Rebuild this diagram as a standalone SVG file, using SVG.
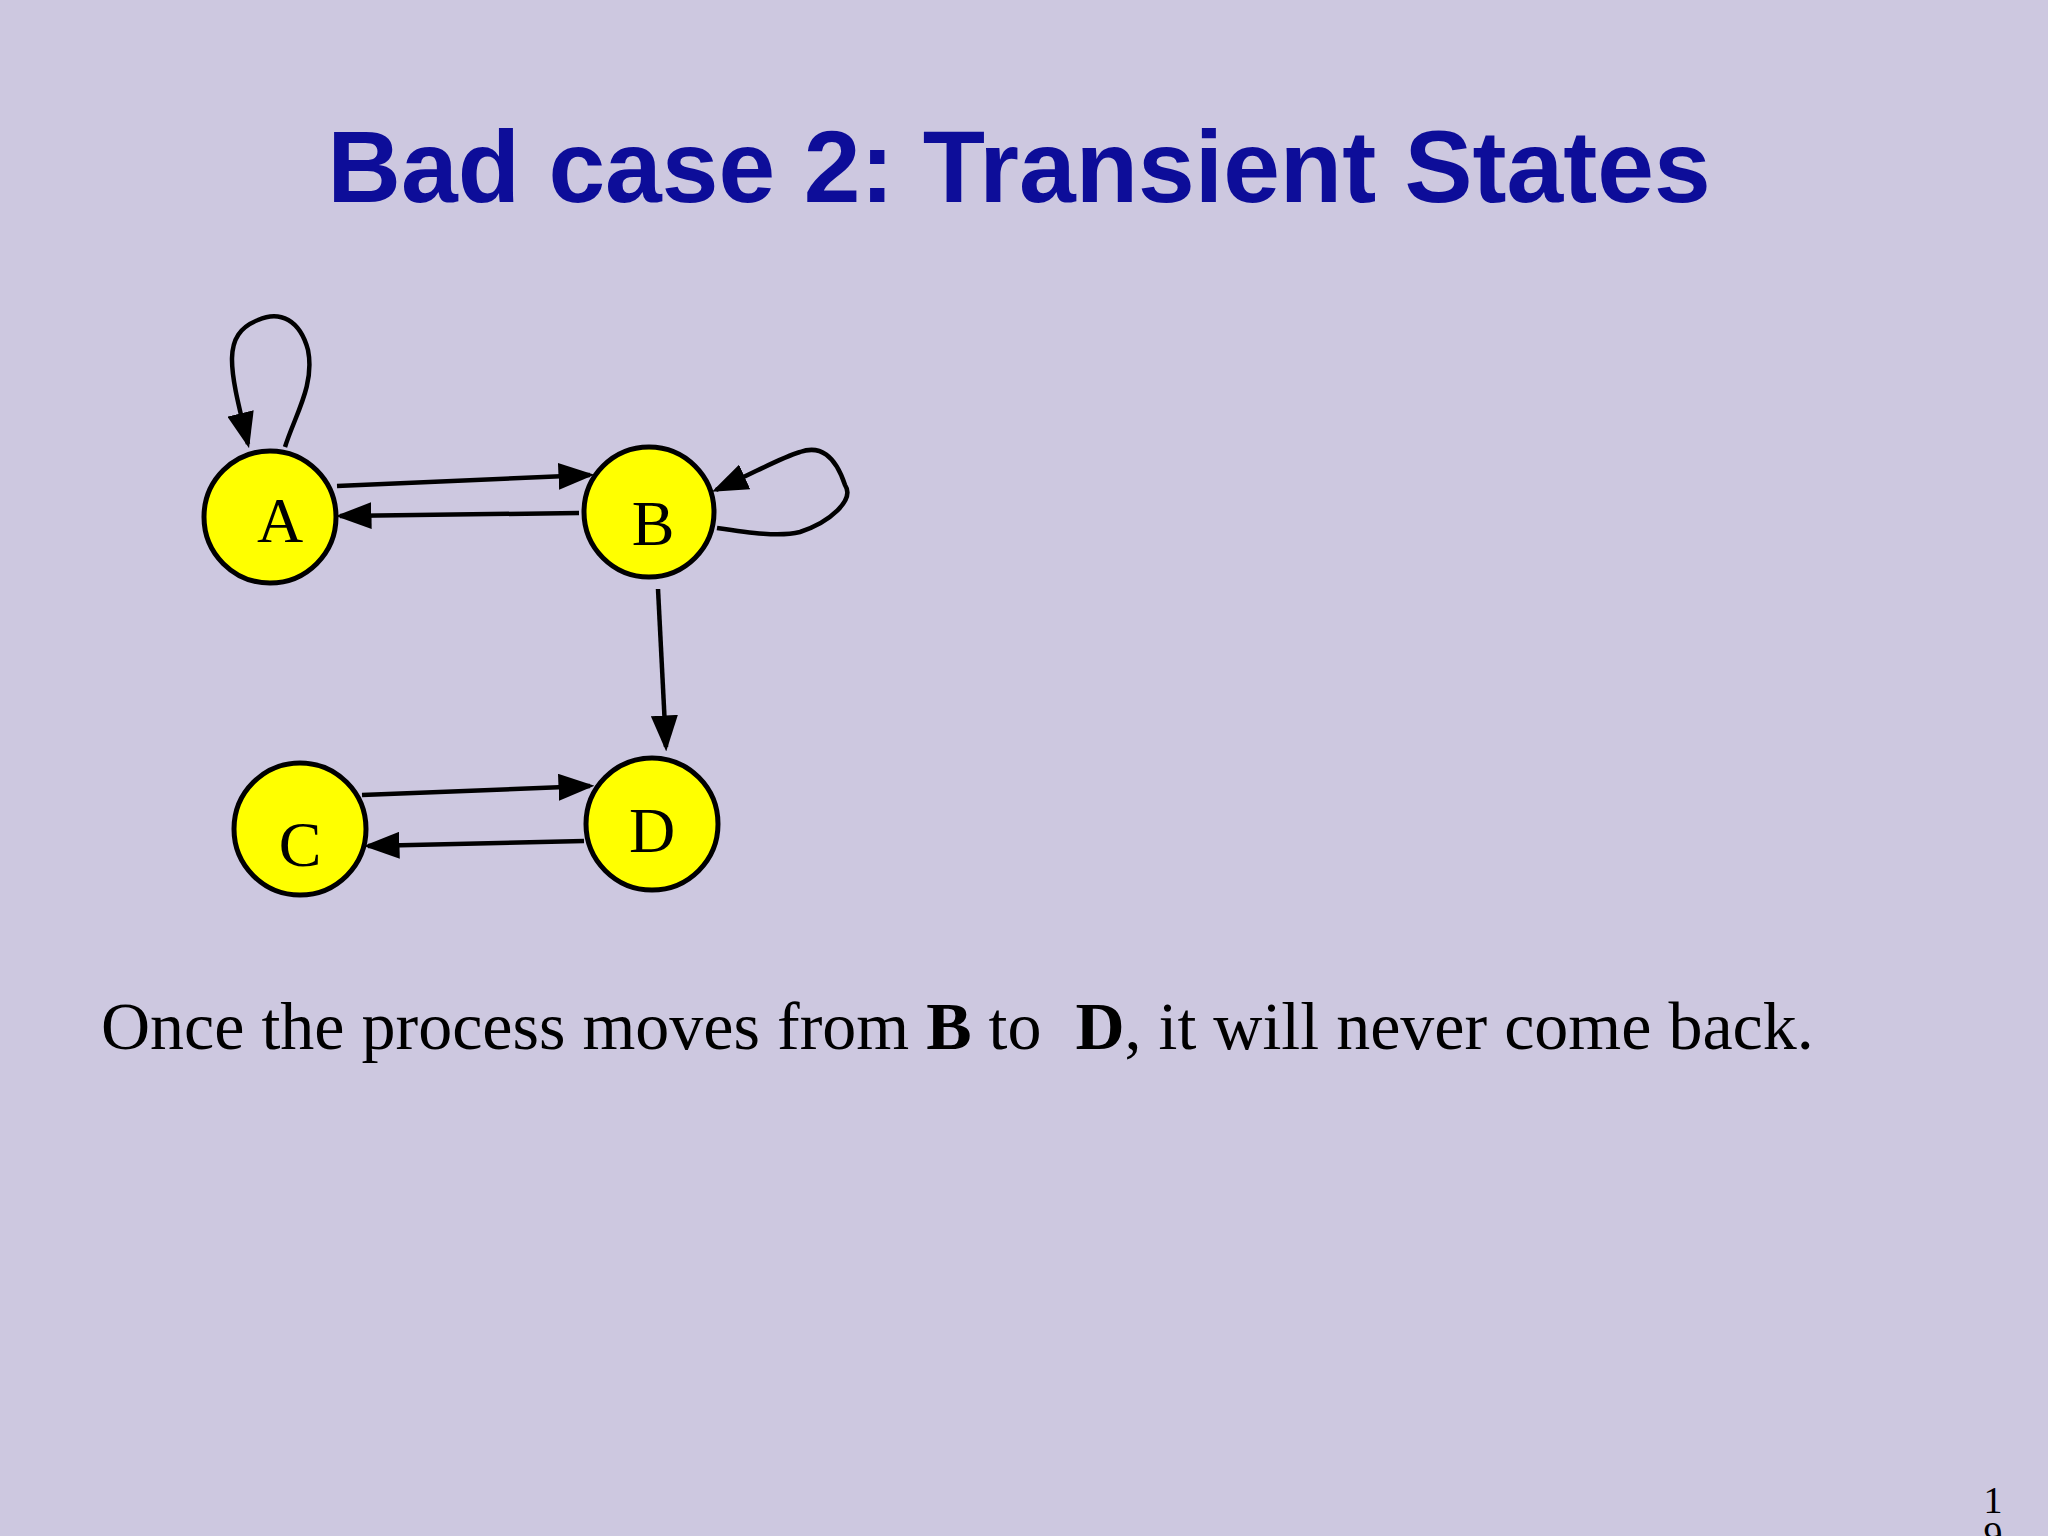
<svg xmlns="http://www.w3.org/2000/svg" width="2048" height="1536" viewBox="0 0 2048 1536">
<style>
.n{fill:#ffff00;stroke:#000;stroke-width:5}
.l{font-family:"Liberation Serif",serif;font-size:64px;text-anchor:middle;fill:#000}
.e{fill:none;stroke:#000;stroke-width:4.5;marker-end:url(#a)}
</style>
<defs><marker id="a" markerWidth="8" markerHeight="6" refX="7" refY="3" orient="auto" markerUnits="strokeWidth"><path d="M0,0L8,3L0,6z" fill="#000"/></marker></defs>
<rect width="2048" height="1536" fill="#cdc8e0"/>
<text x="1019" y="202" font-family="Liberation Sans,sans-serif" font-weight="bold" font-size="102" fill="#0d0d99" text-anchor="middle">Bad case 2: Transient States</text>
<g id="edges">
<path class="e" d="M337,486L590,475"/>
<path class="e" d="M579,513L340,516"/>
<path class="e" d="M658,589L666,747"/>
<path class="e" d="M362,795L590,786"/>
<path class="e" d="M584,841L368,846"/>
<path class="e" d="M285,447C295,415 315,385 308,350C300,320 280,310 258,320C220,335 230,370 248,444"/>
<path class="e" d="M717,528C750,533 780,537 800,532C830,522 855,500 845,485C835,455 820,445 800,452C780,458 760,470 716,490"/>
</g>
<g id="A"><circle class="n" cx="270" cy="517" r="66"/><text class="l" x="280" y="542">A</text></g>
<g id="B"><circle class="n" cx="649" cy="512" r="65"/><text class="l" x="653" y="545">B</text></g>
<g id="C"><circle class="n" cx="300" cy="829" r="66"/><text class="l" x="300" y="866">C</text></g>
<g id="D"><circle class="n" cx="652" cy="824" r="66"/><text class="l" x="652" y="852">D</text></g>
<text x="101" y="1049" font-family="Liberation Serif,serif" font-size="68" fill="#000" xml:space="preserve">Once the process moves from <tspan font-weight="bold">B</tspan> to  <tspan font-weight="bold">D</tspan>, it will never come back.</text>
<text font-family="Liberation Serif,serif" font-size="38" fill="#000" text-anchor="middle"><tspan x="1993" y="1513">1</tspan><tspan x="1993" y="1548">9</tspan></text>
</svg>
